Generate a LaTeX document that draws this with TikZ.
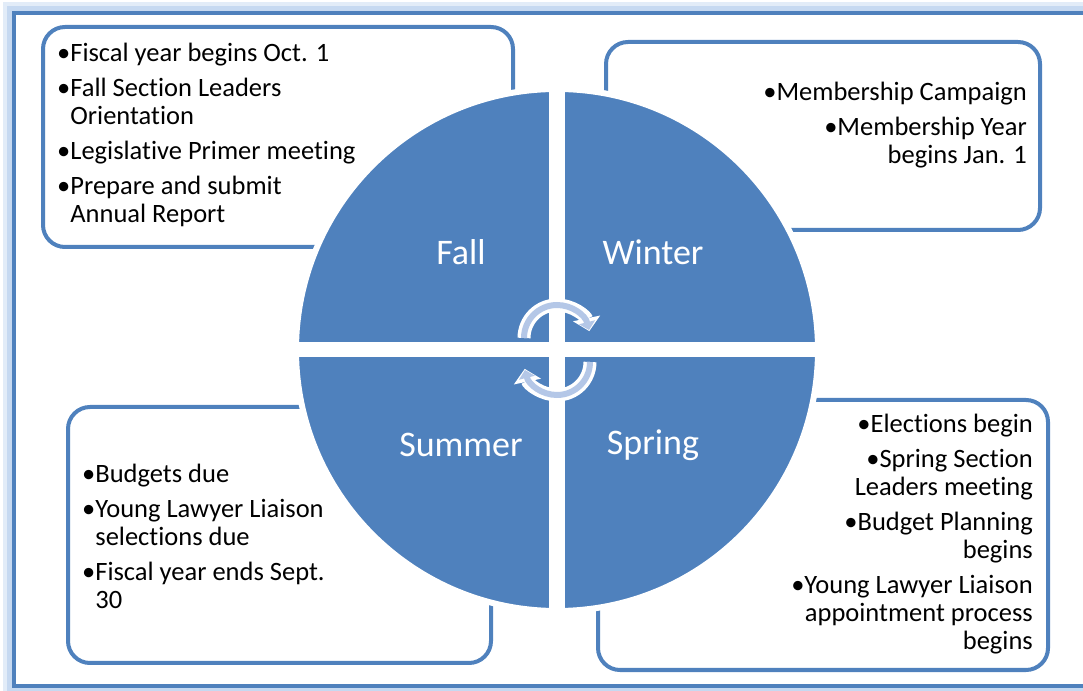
\documentclass[tikz,border=0pt]{standalone}
\usepackage{fontspec}
\setmainfont[Ligatures=NoCommon]{Carlito}
\usetikzlibrary{arrows.meta}
\definecolor{accent}{HTML}{4F81BD}
\definecolor{ringlight}{HTML}{B4C7E7}
\definecolor{glow}{HTML}{C6D9F1}
\tikzset{
  notebox/.style={draw=accent, line width=4pt, rounded corners=22pt, fill=white, inner sep=0pt, outer sep=0pt},
  notes/.style={inner sep=0pt, font=\fontsize{26.5}{28}\selectfont},
  season/.style={text=white, font=\fontsize{36}{40}\selectfont},
  ringout/.style={white, line width=13pt, -{Triangle[length=13pt,width=27pt]}},
  ringin/.style={ringlight, line width=6pt, -{Triangle[length=8pt,width=16pt]}}
}
\begin{document}
\begin{tikzpicture}[x=1pt,y=1pt]
    \useasboundingbox (0,0) rectangle (1083,690);
    % frame
    \draw[glow!50, line width=10pt] (8,-2) rectangle (1098,683);
    \draw[glow, line width=6pt] (10,0) rectangle (1096,681);
    \draw[accent, line width=4pt] (14,4) rectangle (1092,677);

    % Fall
    \node[notebox, minimum width=470, minimum height=220] (fallbox) at (278,553) {};
    \node[notes, anchor=north west, align=left] (falltxt) at ([shift={(14,-16)}]fallbox.north west)
        {•Fiscal year begins Oct. 1\\[7pt]
         •Fall Section Leaders\\ \phantom{•}Orientation\\[7pt]
         •Legislative Primer meeting\\[7pt]
         •Prepare and submit\\ \phantom{•}Annual Report};

    % Winter
    \node[notebox, minimum width=434, minimum height=188] (winterbox) at (823,554) {};
    \node[notes, anchor=north east, align=right] (wintertxt) at ([shift={(-13,-40)}]winterbox.north east)
        {•Membership Campaign\\[7pt]
         •Membership Year\\ begins Jan. 1};

    % Summer
    \node[notebox, minimum width=423, minimum height=256] (summerbox) at (279.5,155) {};
    \node[notes, anchor=north west, align=left] (summertxt) at ([shift={(14,-57)}]summerbox.north west)
        {•Budgets due\\[7pt]
         •Young Lawyer Liaison\\ \phantom{•}selections due\\[7pt]
         •Fiscal year ends Sept.\\ \phantom{•}30};

    % Spring
    \node[notebox, minimum width=450, minimum height=270] (springbox) at (823,155) {};
    \node[notes, anchor=north east, align=right] (springtxt) at ([shift={(-15,-14)}]springbox.north east)
        {•Elections begin\\[7pt]
         •Spring Section\\ Leaders meeting\\[7pt]
         •Budget Planning\\ begins\\[7pt]
         •Young Lawyer Liaison\\ appointment process\\ begins};

    % wheel
    \coordinate (hub) at (557,340);
    \fill[accent, draw=white, line width=6pt] (hub) circle[radius=261];
    \begin{scope}
        \clip (hub) circle[radius=264];
        \draw[white, line width=16pt] ([yshift=-270]hub) -- ([yshift=270]hub);
        \draw[white, line width=15pt] ([xshift=-270]hub) -- ([xshift=270]hub);
    \end{scope}
    \node[season] (fall) at ([shift={(-96,98)}]hub) {Fall};
    \node[season] (winter) at ([shift={(96,98)}]hub) {Winter};
    \node[season] (summer) at ([shift={(-96,-95)}]hub) {Summer};
    \node[season] (spring) at ([shift={(96,-95)}]hub) {Spring};

    % cycle arrows
    \coordinate (upc) at ([yshift=12]hub);
    \coordinate (loc) at ([yshift=-12]hub);
    \draw[ringout] ([shift={(180:33)}]upc) arc[start angle=180, end angle=12, radius=33];
    \draw[ringin] ([shift={(180:33)}]upc) arc[start angle=180, end angle=14, radius=33];
    \draw[ringout] ([shift={(0:33)}]loc) arc[start angle=0, end angle=-168, radius=33];
    \draw[ringin] ([shift={(0:33)}]loc) arc[start angle=0, end angle=-166, radius=33];
\end{tikzpicture}
\end{document}
